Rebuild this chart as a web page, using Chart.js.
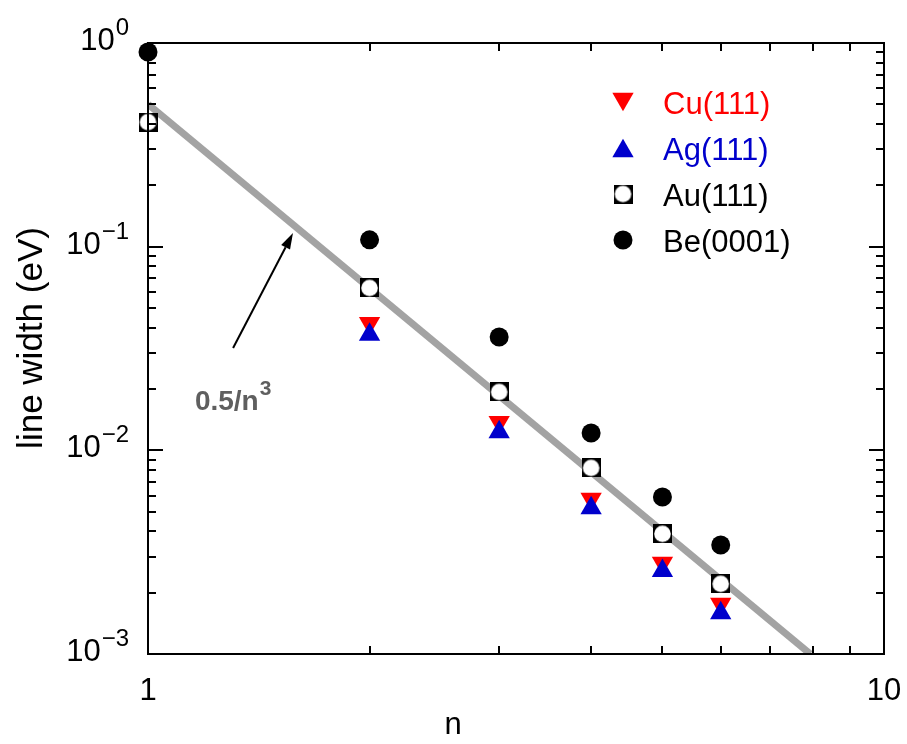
<!DOCTYPE html>
<html><head><meta charset="utf-8">
<script src="https://cdn.jsdelivr.net/npm/chart.js@4"></script>
<style>html,body{margin:0;padding:0;background:#fff}#wrap{width:907px;height:744px;position:relative}</style>
</head><body><div id="wrap"><canvas id="c"></canvas></div>
<script>
// ---- data ----
const nValues = [1, 2, 3, 4, 5, 6];
const cuWidth = [null, 0.0421, 0.01377, 0.00577, 0.0028, 0.00176];
const agWidth = [null, 0.0370, 0.0123, 0.00521, 0.00256, 0.00159];
const auWidth = [0.409, 0.0627, 0.01935, 0.0082, 0.00389, 0.00221];
const beWidth = [0.903, 0.108, 0.0360, 0.01217, 0.0059, 0.00343];
const fitN = [1, 7.94];
const fitWidth = [0.5, 0.001];
const seriesLabels = ['Cu(111)', 'Ag(111)', 'Au(111)', 'Be(0001)'];
const xTickValues = [1, 10];
const xTickLabels = ['1', '10'];
const yTickValues = [1, 0.1, 0.01, 0.001];
const yTickExponents = ['0', '\u22121', '\u22122', '\u22123'];
const xTitle = 'n';
const yTitle = 'line width (eV)';
const fitLabel = '0.5/n';
const fitLabelSup = '3';
// annotation anchors in data space
const arrowFrom = {x: 1.305, y: 0.0318};
const arrowTo = {x: 1.574, y: 0.1167};
const labelAt = {x: 1.158, y: 0.0158};

const F = '"Liberation Sans", Arial, Helvetica, sans-serif';
const RED = '#ff0000', BLUE = '#0000cc', BLACK = '#000000', GRAY = '#a3a3a3';

const pts = arr => nValues.map((n, i) => ({x: n, y: arr[i]})).filter(p => p.y != null);

// Au marker: black square with white circle
const auImg = document.createElement('canvas');
auImg.width = 19; auImg.height = 19;
(function(){const g = auImg.getContext('2d');
 g.fillStyle = '#000'; g.fillRect(0,0,19,19);
 g.fillStyle = '#fff'; g.beginPath(); g.arc(9.5,9.5,8.3,0,Math.PI*2); g.fill();})();

function drawMarker(ctx, kind, cx, cy) {
  ctx.save();
  if (kind === 'down' || kind === 'up') {
    const r = 12.3;
    ctx.fillStyle = kind === 'down' ? RED : BLUE;
    const yc = kind === 'down' ? cy - r/4 : cy + r/4;
    const s = kind === 'down' ? -1 : 1;
    ctx.beginPath();
    ctx.moveTo(cx, yc - s*r);
    ctx.lineTo(cx + r*Math.sin(Math.PI/3), yc + s*r/2);
    ctx.lineTo(cx - r*Math.sin(Math.PI/3), yc + s*r/2);
    ctx.closePath(); ctx.fill();
  } else if (kind === 'au') {
    ctx.drawImage(auImg, cx - 9.5, cy - 9.5);
  } else {
    ctx.fillStyle = BLACK; ctx.beginPath(); ctx.arc(cx, cy, 9.5, 0, Math.PI*2); ctx.fill();
  }
  ctx.restore();
}

const decor = {
  id: 'decor',
  afterDatasetsDraw(chart) {
    const {ctx, chartArea: a, scales: {x, y}} = chart;
    ctx.save();
    // frame
    ctx.strokeStyle = '#000'; ctx.lineWidth = 2;
    ctx.strokeRect(a.left, a.top, a.right - a.left, a.bottom - a.top);
    // ticks
    ctx.beginPath();
    for (let d = -3; d <= 0; d++) {
      for (let k = 1; k <= 9; k++) {
        const v = k * Math.pow(10, d);
        if (v > 1 + 1e-9) break;
        const len = k === 1 ? 15 : 8;
        const py = Math.round(y.getPixelForValue(v));
        ctx.moveTo(a.left, py); ctx.lineTo(a.left + len, py);
        ctx.moveTo(a.right, py); ctx.lineTo(a.right - len, py);
      }
    }
    for (let k = 1; k <= 10; k++) {
      const len = (k === 1 || k === 10) ? 15 : 8;
      const px = Math.round(x.getPixelForValue(k));
      ctx.moveTo(px, a.bottom); ctx.lineTo(px, a.bottom - len);
      ctx.moveTo(px, a.top); ctx.lineTo(px, a.top + len);
    }
    ctx.stroke();
    // y tick labels with superscripts
    ctx.fillStyle = '#000'; ctx.textBaseline = 'alphabetic';
    yTickValues.forEach((v, i) => {
      const py = y.getPixelForValue(v);
      ctx.font = '24px ' + F;
      const sw = ctx.measureText(yTickExponents[i]).width;
      ctx.font = '31px ' + F;
      const mw = ctx.measureText('10').width;
      const right = a.left - 19;
      ctx.textAlign = 'left';
      ctx.fillText('10', right - sw - mw - 1, py + 7);
      ctx.font = '24px ' + F;
      ctx.fillText(yTickExponents[i], right - sw, py - 8);
    });
    // x tick labels
    ctx.font = '31px ' + F; ctx.textAlign = 'center';
    xTickValues.forEach((v, i) => ctx.fillText(xTickLabels[i], x.getPixelForValue(v), a.bottom + 46));
    // axis titles
    ctx.font = '31px ' + F;
    ctx.fillText(xTitle, 453, 734);
    ctx.save(); ctx.translate(42, 338); ctx.rotate(-Math.PI/2);
    ctx.font = '35px ' + F; ctx.textAlign = 'center'; ctx.fillText(yTitle, 0, 0);
    ctx.restore();
    // legend
    const kinds = ['down', 'up', 'au', 'be'];
    const colors = [RED, BLUE, BLACK, BLACK];
    ctx.font = '31px ' + F; ctx.textAlign = 'left';
    seriesLabels.forEach((lab, i) => {
      const base = 114 + i * 46;
      drawMarker(ctx, kinds[i], 623, base - 12);
      ctx.fillStyle = colors[i];
      ctx.fillText(lab, 663, base);
    });
    // annotation arrow + label
    const x0 = x.getPixelForValue(arrowFrom.x), y0 = y.getPixelForValue(arrowFrom.y);
    const x1 = x.getPixelForValue(arrowTo.x), y1 = y.getPixelForValue(arrowTo.y);
    const ang = Math.atan2(y1 - y0, x1 - x0);
    const hl = 16, hw = 5;
    const bx = x1 - hl*Math.cos(ang), by = y1 - hl*Math.sin(ang);
    ctx.strokeStyle = '#000'; ctx.lineWidth = 2;
    ctx.beginPath(); ctx.moveTo(x0, y0); ctx.lineTo(bx, by); ctx.stroke();
    ctx.fillStyle = '#000'; ctx.beginPath();
    ctx.moveTo(x1, y1);
    ctx.lineTo(bx + hw*Math.sin(ang), by - hw*Math.cos(ang));
    ctx.lineTo(bx - hw*Math.sin(ang), by + hw*Math.cos(ang));
    ctx.closePath(); ctx.fill();
    const lx = x.getPixelForValue(labelAt.x), ly = y.getPixelForValue(labelAt.y);
    ctx.fillStyle = '#5f5f5f'; ctx.font = 'bold 28px ' + F; ctx.textAlign = 'left';
    ctx.fillText(fitLabel, lx, ly);
    const fw = ctx.measureText(fitLabel).width;
    ctx.font = 'bold 21px ' + F;
    ctx.fillText(fitLabelSup, lx + fw + 1, ly - 15);
    ctx.restore();
  }
};

new Chart(document.getElementById('c'), {
  type: 'scatter',
  data: {
    datasets: [
      {label: '0.5/n^3', data: fitN.map((n, i) => ({x: n, y: fitWidth[i]})), showLine: true,
       borderColor: GRAY, borderWidth: 7, pointRadius: 0, borderCapStyle: 'butt', order: 10},
      {label: seriesLabels[0], data: pts(cuWidth), pointStyle: 'triangle', rotation: 180,
       pointRadius: 12.3, backgroundColor: RED, borderWidth: 0, order: 4, clip: false},
      {label: seriesLabels[1], data: pts(agWidth), pointStyle: 'triangle',
       pointRadius: 12.3, backgroundColor: BLUE, borderWidth: 0, order: 3, clip: false},
      {label: seriesLabels[2], data: pts(auWidth), pointStyle: auImg,
       pointRadius: 9.5, borderWidth: 0, order: 2, clip: false},
      {label: seriesLabels[3], data: pts(beWidth), pointStyle: 'circle',
       pointRadius: 9.5, backgroundColor: BLACK, borderWidth: 0, order: 1, clip: false}
    ]
  },
  options: {
    responsive: true, maintainAspectRatio: false, animation: false,
    layout: {padding: {left: 148, top: 43, right: 23, bottom: 90}},
    scales: {
      x: {type: 'logarithmic', min: 1, max: 10, display: false},
      y: {type: 'logarithmic', min: 0.001, max: 1, display: false}
    },
    plugins: {legend: {display: false}, tooltip: {enabled: false}}
  },
  plugins: [decor]
});
</script></body></html>
